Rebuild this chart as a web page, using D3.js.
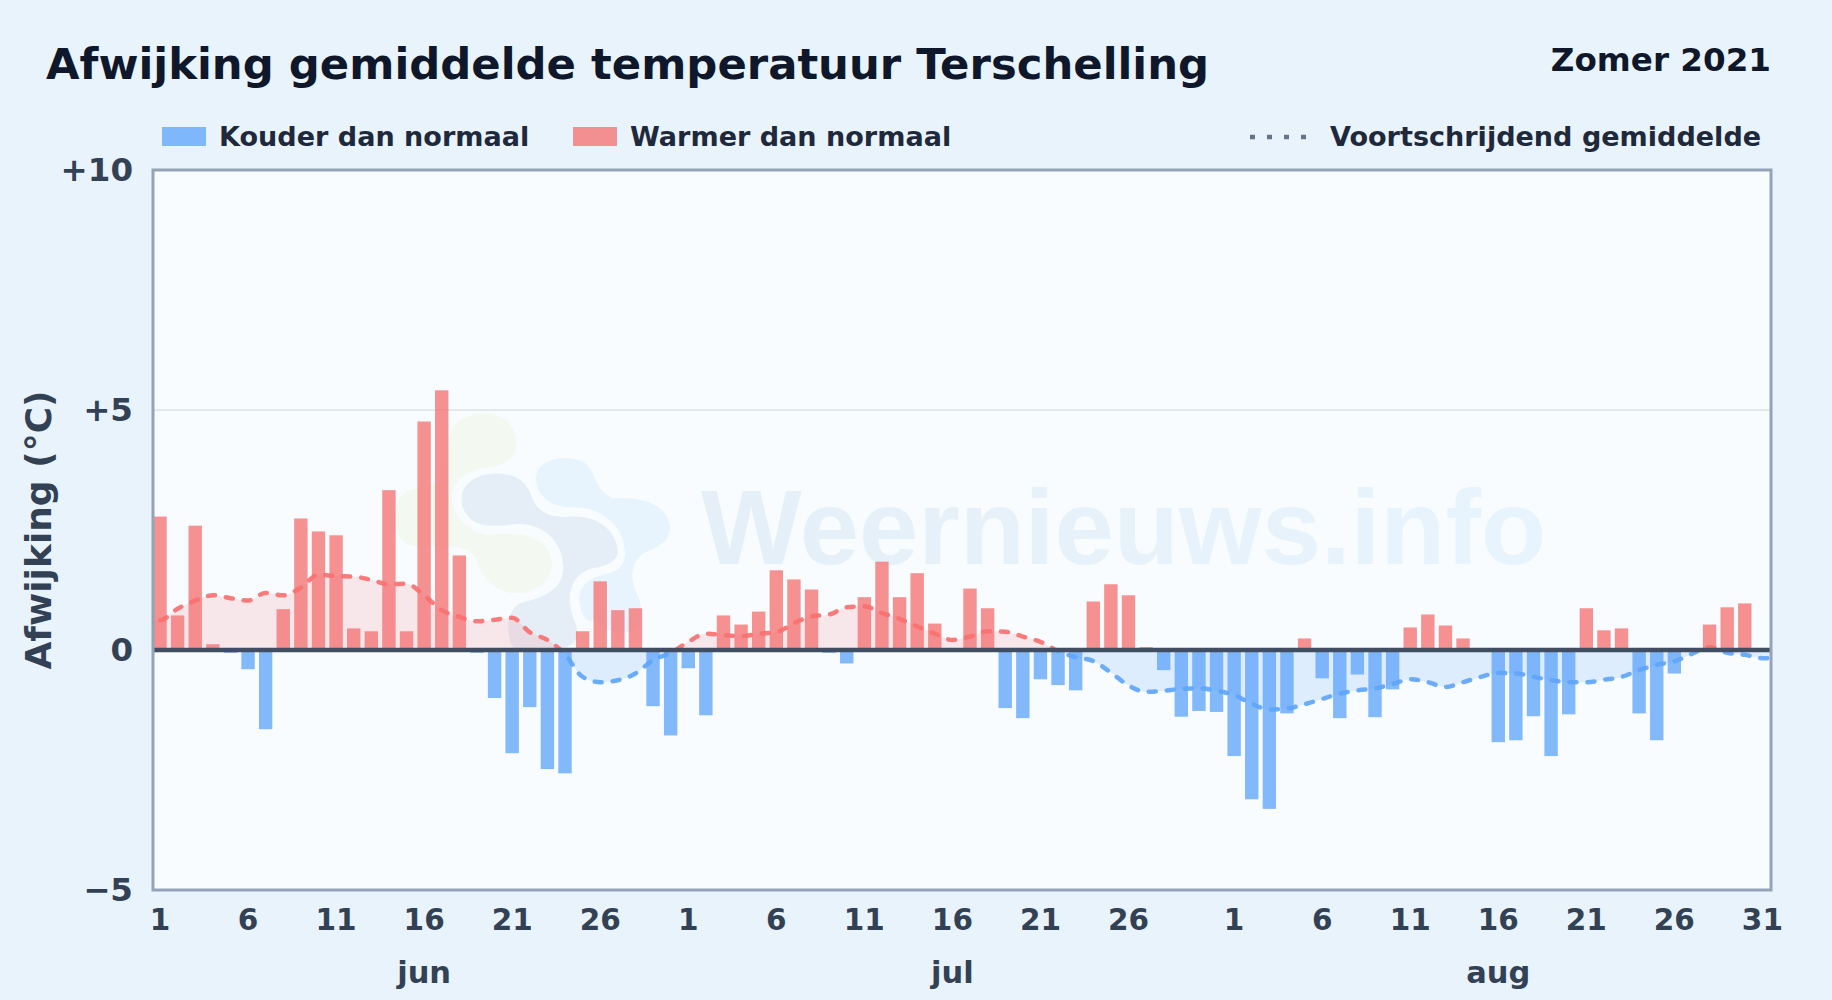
<!DOCTYPE html>
<html>
<head>
<meta charset="utf-8">
<title>Afwijking gemiddelde temperatuur Terschelling</title>
<script src="https://cdn.jsdelivr.net/npm/d3@7"></script>
<style>
  html, body { margin: 0; padding: 0; background: #e8f3fc; overflow: hidden; }
  text { font-family: "DejaVu Sans", sans-serif; font-weight: 700; }
</style>
</head>
<body>
<script>
const months = ["jun", "jul", "aug"];
const monthLengths = [30, 31, 31];

const yTicks = [-5, 0, 5, 10];
const yTickLabels = ["\u22125", "0", "+5", "+10"];

const junValues = [2.78, 0.72, 2.59, 0.12, -0.06, -0.40, -1.65, 0.85, 2.74, 2.47,
  2.39, 0.45, 0.39, 3.33, 0.39, 4.76, 5.41, 1.97, -0.06, -1.00,
  -2.15, -1.19, -2.48, -2.57, 0.39, 1.43, 0.83, 0.87, -1.17, -1.78];
const julValues = [-0.38, -1.36, 0.72, 0.53, 0.80, 1.66, 1.47, 1.26, -0.06, -0.28,
  1.10, 1.84, 1.10, 1.60, 0.55, 0, 1.28, 0.87, -1.21, -1.42,
  -0.61, -0.73, -0.84, 1.01, 1.37, 1.14, 0.06, -0.42, -1.39, -1.27, -1.29];
const augValues = [-2.21, -3.11, -3.31, -1.32, 0.24, -0.59, -1.42, -0.51, -1.40, -0.82,
  0.47, 0.74, 0.51, 0.24, 0, -1.92, -1.88, -1.38, -2.21, -1.34,
  0.87, 0.41, 0.45, -1.32, -1.88, -0.49, 0, 0.53, 0.89, 0.97, 0];

// voortschrijdend gemiddelde
const junAvg = [0.62, 0.86, 1.03, 1.14, 1.08, 1.03, 1.19, 1.14, 1.30, 1.57,
  1.54, 1.53, 1.46, 1.37, 1.38, 1.14, 0.83, 0.69, 0.60, 0.63,
  0.67, 0.37, 0.21, -0.09, -0.56, -0.67, -0.63, -0.49, -0.21, -0.06];
const julAvg = [0.17, 0.34, 0.31, 0.29, 0.34, 0.37, 0.56, 0.70, 0.74, 0.89,
  0.91, 0.77, 0.65, 0.49, 0.34, 0.21, 0.28, 0.39, 0.38, 0.28,
  0.17, -0.02, -0.15, -0.23, -0.47, -0.74, -0.87, -0.85, -0.81, -0.80, -0.85];
const augAvg = [-0.94, -1.12, -1.24, -1.22, -1.13, -1.02, -0.91, -0.84, -0.80, -0.71,
  -0.61, -0.67, -0.77, -0.67, -0.56, -0.48, -0.49, -0.56, -0.63, -0.67,
  -0.67, -0.62, -0.56, -0.42, -0.31, -0.24, -0.08, 0.06, -0.06, -0.10, -0.17];

const values = junValues.concat(julValues, augValues);
const averages = junAvg.concat(julAvg, augAvg);

const width = 1832;
const height = 1000;
const margin = { top: 170, right: 61, bottom: 110, left: 153 };
const innerRight = width - margin.right;
const innerBottom = height - margin.bottom;

// dagen met een label: 1, 6, 11 ... per maand
let start = 0;
const tickIndex = [];
const tickText = new Map();
const monthCenters = [];
monthLengths.forEach((len, m) => {
  for (let day = 1; day <= len; day += 5) {
    if (day === 31 && m < 2) continue;
    tickIndex.push(start + day - 1);
    tickText.set(start + day - 1, day);
  }
  monthCenters.push({ label: months[m], index: start + 15 });
  start += len;
});

const svg = d3.select("body")
  .append("svg")
  .attr("width", width)
  .attr("height", height)
  .style("display", "block");

const defs = svg.append("defs");

const wmGrad = defs.append("linearGradient")
  .attr("id", "wm").attr("x1", 0).attr("y1", 0).attr("x2", 1).attr("y2", 0);
wmGrad.append("stop").attr("offset", 0).attr("stop-color", "#e5eff8");
wmGrad.append("stop").attr("offset", 1).attr("stop-color", "#e8f4fd");

svg.append("rect").attr("width", width).attr("height", height).attr("fill", "#e9f3fc");

const xScale = d3.scaleBand()
  .domain(d3.range(values.length))
  .range([151.2, 1771.2])
  .paddingInner(0.24)
  .paddingOuter(0.12);

const yScale = d3.scaleLinear()
  .domain([-5, 10])
  .range([innerBottom, margin.top]);

const center = i => xScale(i) + xScale.bandwidth() / 2;

defs.append("clipPath").attr("id", "plot").append("rect")
  .attr("x", margin.left).attr("y", margin.top)
  .attr("width", innerRight - margin.left).attr("height", innerBottom - margin.top);
defs.append("clipPath").attr("id", "above").append("rect")
  .attr("x", margin.left).attr("y", margin.top)
  .attr("width", innerRight - margin.left).attr("height", yScale(0) - margin.top);
defs.append("clipPath").attr("id", "below").append("rect")
  .attr("x", margin.left).attr("y", yScale(0))
  .attr("width", innerRight - margin.left).attr("height", innerBottom - yScale(0));

svg.append("rect")
  .attr("x", margin.left).attr("y", margin.top)
  .attr("width", innerRight - margin.left).attr("height", innerBottom - margin.top)
  .attr("fill", "#f8fcff");

// watermerk
const logo = svg.append("g")
  .attr("transform", "translate(380,390) scale(0.3333)");
logo.append("path").attr("fill", "#f3f9f1")
  .attr("d", "M230 100C270 60 370 55 400 120C425 180 395 222 330 232C270 238 225 262 215 320C220 370 250 420 320 435C400 425 480 430 510 490C535 550 480 610 410 610C350 610 310 570 290 510C270 470 220 465 170 468C110 475 60 470 50 420C40 360 50 300 110 295C170 290 200 260 205 210C205 160 205 125 230 100Z");
logo.append("path").attr("fill", "#e5eef7")
  .attr("d", "M245 320C250 270 310 245 370 252C420 258 445 285 455 320C470 365 510 385 570 380C640 375 700 410 712 470C720 510 690 525 640 535C590 545 565 590 570 640C575 690 600 710 590 745C580 770 550 775 520 775L400 775C375 730 380 660 420 640C470 625 550 610 550 530C545 450 490 400 410 402C350 408 300 415 270 385C250 365 243 345 245 320Z");
logo.append("path").attr("fill", "#e8f4fd")
  .attr("d", "M470 250C480 210 550 190 610 215C650 240 640 300 700 325C760 320 860 330 870 410C870 460 830 470 790 490C750 520 750 570 770 610C790 650 790 690 760 720C720 740 670 720 640 690C620 710 590 650 600 610C610 570 650 560 700 545C745 530 740 470 720 430C700 385 640 350 580 352C530 355 490 330 475 300C470 285 465 270 470 250Z");

svg.append("text")
  .attr("x", 701)
  .attr("y", 564)
  .attr("fill", "url(#wm)")
  .style("font-family", "Liberation Sans")
  .style("font-weight", 700)
  .style("font-size", "106.6px")
  .text("Weernieuws.info");

// raster
svg.append("line")
  .attr("x1", margin.left).attr("x2", innerRight)
  .attr("y1", yScale(5)).attr("y2", yScale(5))
  .attr("stroke", "#e2e8ec").attr("stroke-width", 2);

// vlak onder het gemiddelde, de lijn loopt door tot de rand van de plot
const lineX = d3.scaleLinear().domain([0, values.length - 1]).range([center(0), center(values.length - 1)]);
const avgPoints = averages.map((v, i) => [i, v]);
avgPoints.unshift([-1, averages[0]]);
avgPoints.push([values.length, averages[averages.length - 1]]);

const avgArea = d3.area()
  .x(d => lineX(d[0]))
  .y0(yScale(0))
  .y1(d => yScale(d[1]))
  .curve(d3.curveMonotoneX);
const avgLine = d3.line()
  .x(d => lineX(d[0]))
  .y(d => yScale(d[1]))
  .curve(d3.curveMonotoneX);

[["above", "#f87171", 0.15], ["below", "#60a5fa", 0.17]].forEach(([clip, fill, op]) => {
  svg.append("path")
    .attr("clip-path", `url(#${clip})`)
    .attr("d", avgArea(avgPoints))
    .attr("fill", fill)
    .attr("opacity", op);
});

svg.append("g")
  .attr("clip-path", "url(#plot)")
  .selectAll("rect")
  .data(values.map((v, i) => [i, v]).filter(d => d[1] !== 0))
  .enter()
  .append("rect")
  .attr("x", d => xScale(d[0]))
  .attr("y", d => yScale(Math.max(d[1], 0)))
  .attr("width", xScale.bandwidth())
  .attr("height", d => Math.abs(yScale(d[1]) - yScale(0)))
  .attr("fill", d => d[1] > 0 ? "#f47272" : "#60a5fa")
  .attr("opacity", 0.78);

[["above", "#f87171"], ["below", "#60a5fa"]].forEach(([clip, color]) => {
  const g = svg.append("g").attr("clip-path", `url(#${clip})`);
  g.append("path")
    .attr("d", avgLine(avgPoints))
    .attr("fill", "none")
    .attr("stroke", color)
    .attr("stroke-width", 4.5)
    .attr("stroke-linecap", "round")
    .attr("stroke-dasharray", "7 11")
    .attr("opacity", 0.92);
});

// nullijn en kader
svg.append("line")
  .attr("x1", margin.left).attr("x2", innerRight)
  .attr("y1", yScale(0)).attr("y2", yScale(0))
  .attr("stroke", "#414e62").attr("stroke-width", 4.5);

svg.append("rect")
  .attr("x", margin.left).attr("y", margin.top)
  .attr("width", innerRight - margin.left).attr("height", innerBottom - margin.top)
  .attr("fill", "none")
  .attr("stroke", "#94a3b8")
  .attr("stroke-width", 3);

// assen
const xAxis = d3.axisBottom(xScale)
  .tickValues(tickIndex)
  .tickFormat(i => tickText.get(i))
  .tickSize(0)
  .tickPadding(0);
const xAxisG = svg.append("g")
  .attr("transform", `translate(0,${innerBottom})`)
  .call(xAxis);
xAxisG.select(".domain").remove();
xAxisG.selectAll("text")
  .attr("y", 40)
  .attr("dy", 0)
  .attr("fill", "#334155")
  .style("font-family", "DejaVu Sans")
  .style("font-size", "29.5px");

const yAxis = d3.axisLeft(yScale)
  .tickValues(yTicks)
  .tickFormat((d, i) => yTickLabels[i])
  .tickSize(0)
  .tickPadding(20);
const yAxisG = svg.append("g")
  .attr("transform", `translate(${margin.left},0)`)
  .call(yAxis);
yAxisG.select(".domain").remove();
yAxisG.selectAll("text")
  .attr("fill", "#334155")
  .style("font-family", "DejaVu Sans")
  .style("font-size", "32.5px");

svg.selectAll(".month")
  .data(monthCenters)
  .enter()
  .append("text")
  .attr("class", "month")
  .attr("x", d => center(d.index))
  .attr("y", 983)
  .attr("text-anchor", "middle")
  .attr("fill", "#334155")
  .style("font-size", "30.5px")
  .text(d => d.label);

svg.append("text")
  .attr("transform", `translate(51,${yScale(2.5)}) rotate(-90)`)
  .attr("text-anchor", "middle")
  .attr("fill", "#334155")
  .style("font-size", "36px")
  .text("Afwijking (°C)");

// titel
svg.append("text")
  .attr("x", 46).attr("y", 79)
  .attr("fill", "#0f172a")
  .style("font-size", "43.35px")
  .text("Afwijking gemiddelde temperatuur Terschelling");
svg.append("text")
  .attr("x", 1771).attr("y", 71)
  .attr("text-anchor", "end")
  .attr("fill", "#0f172a")
  .style("font-size", "32.6px")
  .text("Zomer 2021");

// legenda
const legendSwatches = [
  { x: 162, label: "Kouder dan normaal", color: "#60a5fa", tx: 219 },
  { x: 573, label: "Warmer dan normaal", color: "#f47272", tx: 630 }
];
legendSwatches.forEach(l => {
  svg.append("rect")
    .attr("x", l.x).attr("y", 127)
    .attr("width", 44).attr("height", 19)
    .attr("fill", l.color).attr("opacity", 0.78);
  svg.append("text")
    .attr("x", l.tx).attr("y", 146)
    .attr("fill", "#1e293b")
    .style("font-size", "27.05px")
    .text(l.label);
});
svg.append("line")
  .attr("x1", 1250).attr("x2", 1310)
  .attr("y1", 137).attr("y2", 137)
  .attr("stroke", "#64748b")
  .attr("stroke-width", 4.5)
  .attr("stroke-dasharray", "5 12");
svg.append("text")
  .attr("x", 1330).attr("y", 146)
  .attr("fill", "#1e293b")
  .style("font-size", "27.05px")
  .text("Voortschrijdend gemiddelde");
</script>
</body>
</html>
